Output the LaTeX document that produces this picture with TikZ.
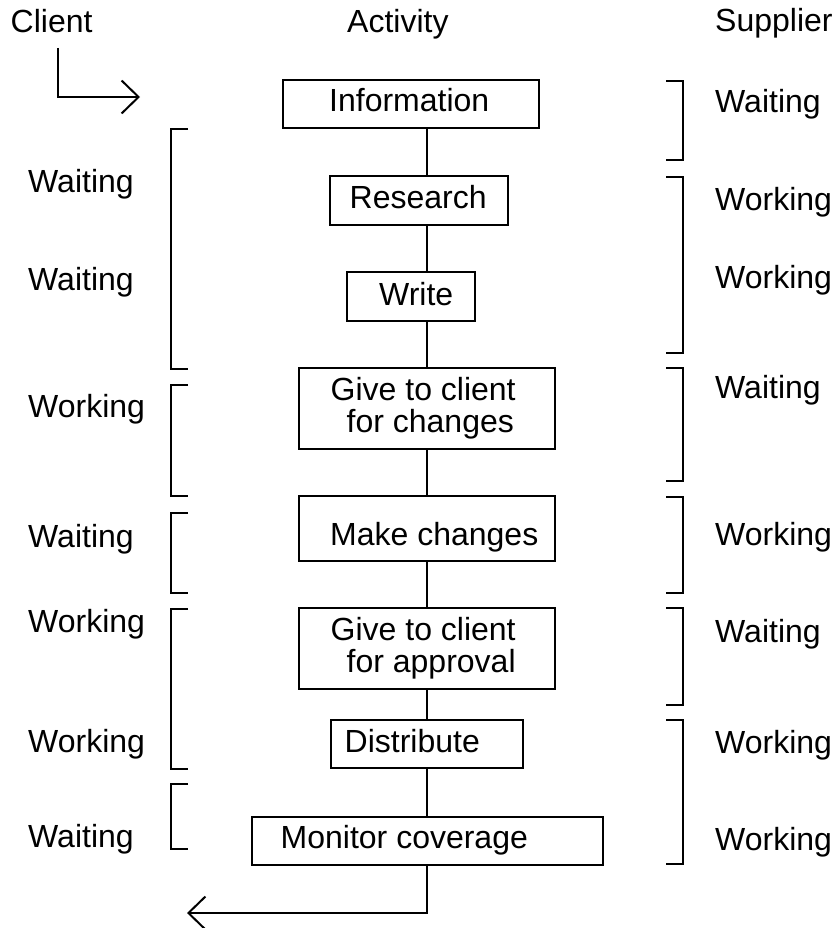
\documentclass[tikz,border=0pt]{standalone}
\usepackage{fontspec}
\setmainfont{Liberation Sans}
\usetikzlibrary{arrows.meta}
\tikzset{
  lbl/.style={anchor=base west, inner sep=0pt, font=\fontsize{32}{36}\selectfont},
  box/.style={draw, line width=2pt, inner sep=0pt, rectangle},
  link/.style={line width=2pt},
  brk/.style={line width=2pt},
  arr/.style={line width=2pt, -{Straight Barb[length=17pt,width=33pt,line width=2pt]}}
}
\begin{document}
\begin{tikzpicture}[x=1pt,y=-1pt]
\useasboundingbox (0,0) rectangle (835,928);
\coordinate (spine) at (427,0);
% headers
\node[lbl] (hClient) at (10.5,33) {Client};
\node[lbl] (hActivity) at (347,33) {Activity};
\node[lbl] (hSupplier) at (715,32) {Supplier};
% boxes
\node[box, minimum width=256pt, minimum height=48pt] (info) at (411,104) {};
\node[box, minimum width=178pt, minimum height=49pt] (research) at (419,200.5) {};
\node[box, minimum width=128pt, minimum height=49pt] (write) at (411,296.5) {};
\node[box, minimum width=256pt, minimum height=81pt] (give1) at (427,408.5) {};
\node[box, minimum width=256pt, minimum height=65pt] (make) at (427,528.5) {};
\node[box, minimum width=256pt, minimum height=81pt] (give2) at (427,648.5) {};
\node[box, minimum width=192pt, minimum height=48pt] (distribute) at (427,744) {};
\node[box, minimum width=351pt, minimum height=48pt] (monitor) at (427.5,841) {};
% box texts
\node[lbl] (tInfo) at (329,112) {Information};
\node[lbl] (tResearch) at (349.5,208) {Research};
\node[lbl] (tWrite) at (379,305) {Write};
\node[lbl] (tGive1a) at (330.5,400) {Give to client};
\node[lbl] (tGive1b) at (346.5,432) {for changes};
\node[lbl] (tMake) at (330,545) {Make changes};
\node[lbl] (tGive2a) at (330.5,640) {Give to client};
\node[lbl] (tGive2b) at (346.5,672) {for approval};
\node[lbl] (tDist) at (344.5,752) {Distribute};
\node[lbl] (tMon) at (280.5,848) {Monitor coverage};
% connectors
\draw[link] (info.south -| spine) -- (research.north -| spine);
\draw[link] (research.south -| spine) -- (write.north -| spine);
\draw[link] (write.south -| spine) -- (give1.north -| spine);
\draw[link] (give1.south -| spine) -- (make.north -| spine);
\draw[link] (make.south -| spine) -- (give2.north -| spine);
\draw[link] (give2.south -| spine) -- (distribute.north -| spine);
\draw[link] (distribute.south -| spine) -- (monitor.north -| spine);
% entry and exit arrows
\coordinate (inStart) at (58,48);
\coordinate (inEnd) at (140,97);
\draw[arr] (inStart) |- (inEnd);
\coordinate (outEnd) at (187,913);
\draw[arr] (monitor.south -| spine) |- (outEnd);
% client brackets
\draw[brk] (188,129) -| (171,369) -- (188,369);
\draw[brk] (188,385) -| (171,496) -- (188,496);
\draw[brk] (188,513) -| (171,593) -- (188,593);
\draw[brk] (188,609) -| (171,769) -- (188,769);
\draw[brk] (188,784) -| (171,849) -- (188,849);
% supplier brackets
\draw[brk] (666,81) -| (683,160) -- (666,160);
\draw[brk] (666,177) -| (683,353) -- (666,353);
\draw[brk] (666,368) -| (683,481) -- (666,481);
\draw[brk] (666,497) -| (683,593) -- (666,593);
\draw[brk] (666,608) -| (683,705) -- (666,705);
\draw[brk] (666,720) -| (683,864) -- (666,864);
% client states
\node[lbl] (cs1) at (28,193) {Waiting};
\node[lbl] (cs2) at (28,290) {Waiting};
\node[lbl] (cs3) at (28,417) {Working};
\node[lbl] (cs4) at (28,547) {Waiting};
\node[lbl] (cs5) at (28,632) {Working};
\node[lbl] (cs6) at (28,752) {Working};
\node[lbl] (cs7) at (28,847) {Waiting};
% supplier states
\node[lbl] (ss1) at (715,113) {Waiting};
\node[lbl] (ss2) at (715,210) {Working};
\node[lbl] (ss3) at (715,288) {Working};
\node[lbl] (ss4) at (715,398) {Waiting};
\node[lbl] (ss5) at (715,545) {Working};
\node[lbl] (ss6) at (715,642) {Waiting};
\node[lbl] (ss7) at (715,753) {Working};
\node[lbl] (ss8) at (715,850) {Working};
\end{tikzpicture}
\end{document}
